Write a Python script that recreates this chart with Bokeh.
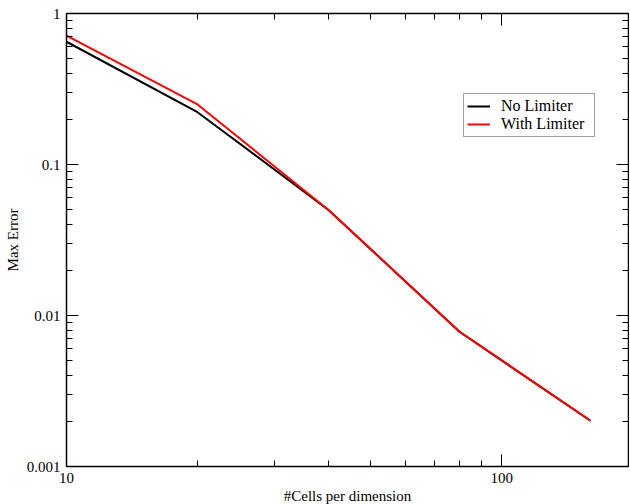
from bokeh.plotting import figure
from bokeh.models import (LogAxis, FixedTicker, CustomJSTickFormatter, Range1d,
                          Legend, LegendItem)
from bokeh.embed import file_html
from bokeh.resources import INLINE

cells = [10, 20, 40, 80, 160]
no_limiter = [0.65, 0.222, 0.05, 0.0078, 0.00201]
with_limiter = [0.713, 0.25, 0.05, 0.0078, 0.00201]

x_major = [10, 100]
x_minor = [20, 30, 40, 50, 60, 70, 80, 90, 200]
y_major = [0.001, 0.01, 0.1, 1]
y_minor = [m * d for d in (0.001, 0.01, 0.1) for m in range(2, 10)]

FONT = "Liberation Serif"

p = figure(x_axis_type="log", y_axis_type="log",
           x_range=Range1d(10, 195.6), y_range=Range1d(0.001, 1),
           output_backend="svg", toolbar_location=None,
           frame_width=562, frame_height=453,
           min_border_left=66, min_border_right=1, min_border_top=13,
           min_border_bottom=36)
p.grid.visible = False
p.outline_line_color = None
p.background_fill_color = "white"
p.border_fill_color = "white"

fmt = CustomJSTickFormatter(code="return tick.toString();")
blank = CustomJSTickFormatter(code="return '';")

def style(ax, labels=True):
    ax.axis_line_color = "black"
    ax.axis_line_width = 1.5
    ax.major_tick_in = 12
    ax.major_tick_out = 0
    ax.minor_tick_in = 6
    ax.minor_tick_out = 0
    ax.major_tick_line_color = "black"
    ax.minor_tick_line_color = "black"
    ax.major_tick_line_width = 1
    ax.minor_tick_line_width = 1
    if labels:
        ax.major_label_text_font = FONT
        ax.major_label_text_font_size = "15px"
        ax.major_label_text_color = "black"
        ax.axis_label_text_font = FONT
        ax.axis_label_text_font_size = "15px"
        ax.axis_label_text_font_style = "normal"
        ax.axis_label_text_color = "black"
        ax.formatter = fmt
    else:
        ax.formatter = blank
        ax.major_label_text_font_size = "1px"
        ax.major_label_standoff = 0

p.xaxis.ticker = FixedTicker(ticks=x_major, minor_ticks=x_minor)
p.yaxis.ticker = FixedTicker(ticks=y_major, minor_ticks=y_minor)
style(p.xaxis[0])
style(p.yaxis[0])
p.xaxis.axis_label = "#Cells per dimension"
p.yaxis.axis_label = "Max Error"
p.xaxis.major_label_standoff = 6
p.yaxis.major_label_standoff = 6
p.xaxis.axis_label_standoff = 2
p.yaxis.axis_label_standoff = 3

top = LogAxis(ticker=FixedTicker(ticks=x_major, minor_ticks=x_minor))
right = LogAxis(ticker=FixedTicker(ticks=y_major, minor_ticks=y_minor))
style(top, labels=False)
style(right, labels=False)
p.add_layout(top, "above")
p.add_layout(right, "right")

r1 = p.line(cells, no_limiter, line_color="black", line_width=2)
r2 = p.line(cells, with_limiter, line_color="red", line_width=2)

legend = Legend(items=[LegendItem(label="No Limiter", renderers=[r1]),
                       LegendItem(label="With Limiter", renderers=[r2])],
                location=(397, 329))
legend.label_text_font = FONT
legend.label_text_font_size = "16px"
legend.label_text_color = "black"
legend.glyph_width = 23
legend.glyph_height = 16
legend.label_height = 16
legend.label_width = 90
legend.label_standoff = 11
legend.padding = 3
legend.spacing = 0
legend.margin = 0
legend.border_line_color = "#444444"
legend.border_line_width = 1.5
legend.background_fill_alpha = 1
p.add_layout(legend, "center")

open("out.html", "w").write(file_html(p, INLINE))
